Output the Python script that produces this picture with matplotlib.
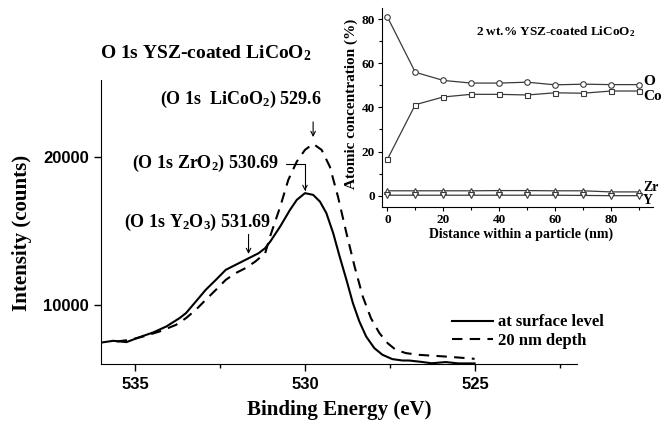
import numpy as np
import matplotlib
matplotlib.use("Agg")
import matplotlib.pyplot as plt
from matplotlib.ticker import MultipleLocator

plt.rcParams['font.family'] = ['Liberation Serif', 'DejaVu Serif']
plt.rcParams['font.weight'] = 'bold'
plt.rcParams['axes.labelweight'] = 'bold'
plt.rcParams['mathtext.fontset'] = 'custom'
plt.rcParams['mathtext.rm'] = 'Liberation Serif:bold'
plt.rcParams['mathtext.it'] = 'Liberation Serif:bold:italic'
plt.rcParams['mathtext.bf'] = 'Liberation Serif:bold'

# ---- O 1s spectra (binding energy in eV, intensity in counts) ----
energia_sup = [535.98, 535.64, 535.25, 534.86, 534.47, 534.08, 533.69, 533.50, 533.21,
               532.92, 532.62, 532.33, 532.04, 531.65, 531.36, 531.17, 531.02, 530.73,
               530.44, 530.24, 530.00, 529.76, 529.56, 529.37, 529.17, 528.98, 528.78,
               528.59, 528.40, 528.20, 527.96, 527.72, 527.43, 527.13, 526.94, 526.60,
               526.27, 525.86, 525.48, 525.01]
intens_sup = [7453, 7568, 7480, 7818, 8128, 8534, 9101, 9439, 10223,
              11014, 11689, 12365, 12703, 13155, 13493, 13831, 14277, 15291,
              16419, 17095, 17547, 17432, 16980, 16196, 14845, 13264, 11689,
              10115, 8872, 7858, 7074, 6622, 6331, 6236, 6236, 6150,
              6050, 6130, 6040, 6040]

energia_20nm = [535.54, 535.15, 534.76, 534.28, 533.79, 533.50, 533.21, 532.92, 532.62,
                532.33, 532.04, 531.75, 531.46, 531.17, 531.02, 530.73, 530.49, 530.24,
                530.00, 529.76, 529.51, 529.27, 529.03, 528.78, 528.54, 528.30, 528.06,
                527.81, 527.57, 527.33, 527.03, 526.65, 525.77, 525.01]
intens_20nm = [7520, 7635, 7858, 8196, 8649, 9101, 9662, 10338, 11014,
               11689, 12142, 12480, 12926, 13493, 14660, 16620, 18446, 19682,
               20473, 20878, 20473, 19345, 17318, 14845, 12588, 10561, 9101,
               8088, 7412, 6959, 6736, 6620, 6490, 6350]

# ---- depth profile (inset) ----
distancia = [0, 10, 20, 30, 40, 50, 60, 70, 80, 90]
conc_O = [81, 55.9, 52.2, 51.0, 51.0, 51.4, 50.2, 50.5, 50.3, 50.3]
conc_Co = [16.4, 41.2, 44.7, 45.9, 45.9, 45.6, 46.6, 46.4, 47.4, 47.4]
conc_Zr = [2.2, 2.2, 2.2, 2.2, 2.3, 2.3, 2.2, 2.2, 1.7, 1.7]
conc_Y = [0.2, 0.2, 0.2, 0.2, 0.2, 0.2, 0.2, 0.1, 0.0, 0.0]

fig = plt.figure(figsize=(6.61, 4.24), dpi=100)
ax = fig.add_axes([0.1528, 0.1415, 0.720, 0.670])

ax.plot(energia_sup, intens_sup, color='black', lw=1.5, label='at surface level')
ax.plot(energia_20nm, intens_20nm, color='black', lw=1.5, ls=(0, (5, 3.5)), label='20 nm depth')

ax.set_xlim(536, 522)
ax.set_ylim(6000, 25200)
ax.spines['top'].set_visible(False)
ax.spines['right'].set_visible(False)
ax.set_xticks([535, 530, 525], labels=['535', '530', '525'],
              fontfamily='Liberation Sans', fontweight='bold', fontsize=12)
ax.set_yticks([10000, 20000], labels=['10000', '20000'],
              fontfamily='Liberation Sans', fontweight='bold', fontsize=12)
ax.xaxis.set_minor_locator(MultipleLocator(2.5))
ax.tick_params(which='major', direction='out', length=5, width=1)
ax.tick_params(which='minor', direction='out', length=3, width=1)
ax.tick_params(axis='x', pad=4)

ax.set_xlabel('Binding Energy (eV)', fontsize=15, fontweight='bold')
ax.xaxis.set_label_coords(0.5, -0.125)
ax.set_ylabel('Intensity (counts)', fontsize=15, fontweight='bold')
ax.yaxis.set_label_coords(-0.145, 0.461)

fig.text(0.312, 0.875, 'O 1s YSZ-coated LiCoO$_2$', ha='center', va='center',
         fontsize=14, fontweight='bold')

# anotaciones de picos
ax.annotate('(O 1s  LiCoO$_2$) 529.6', xy=(529.76, 21150), xytext=(531.89, 23850),
            ha='center', va='center', fontsize=13, fontweight='bold')
ax.annotate('', xy=(529.76, 21150), xytext=(529.76, 22550),
            arrowprops=dict(arrowstyle='->', lw=0.8, color='black', mutation_scale=8))
ax.annotate('(O 1s ZrO$_2$) 530.69', xy=(530.0, 17700), xytext=(530.76, 19527),
            ha='right', va='center', fontsize=13, fontweight='bold',
            arrowprops=dict(arrowstyle='->', lw=0.8, color='black', mutation_scale=8,
                            connectionstyle='angle,angleA=0,angleB=90,rad=0',
                            shrinkA=3, shrinkB=0))
ax.annotate('(O 1s Y$_2$O$_3$) 531.69', xy=(531.66, 15540), xytext=(533.16, 15540),
            ha='center', va='center', fontsize=13, fontweight='bold')
ax.annotate('', xy=(531.66, 13250), xytext=(531.66, 14950),
            arrowprops=dict(arrowstyle='->', lw=0.8, color='black', mutation_scale=8))

ax.legend(loc='center left', bbox_to_anchor=(0.737, 0.114), frameon=False,
          prop={'size': 12, 'weight': 'bold'}, handlelength=2.5, handletextpad=0.3,
          labelspacing=0.15, borderpad=0, borderaxespad=0)

# ---- inset ----
axi = fig.add_axes([0.5775, 0.5125, 0.4104, 0.4686])
gris = '#3a3a3a'
axi.plot(distancia, conc_O, color=gris, lw=0.9, marker='o', ms=4, mfc='white', mec=gris, mew=0.8)
axi.plot(distancia, conc_Co, color=gris, lw=0.9, marker='s', ms=3.6, mfc='white', mec=gris, mew=0.8)
axi.plot(distancia, conc_Zr, color=gris, lw=0.9, marker='^', ms=4, mfc='white', mec=gris, mew=0.8)
axi.plot(distancia, conc_Y, color=gris, lw=0.9, marker='v', ms=4, mfc='white', mec=gris, mew=0.8)
axi.set_xlim(-2, 95)
axi.set_ylim(-5, 85)
axi.patch.set_alpha(0)
axi.spines['top'].set_visible(False)
axi.spines['right'].set_visible(False)
axi.set_xticks([0, 20, 40, 60, 80])
axi.set_yticks([0, 20, 40, 60, 80])
axi.xaxis.set_minor_locator(MultipleLocator(10))
axi.yaxis.set_minor_locator(MultipleLocator(10))
axi.tick_params(which='major', direction='out', length=3, width=0.8, labelsize=9.5, pad=2)
axi.tick_params(which='minor', direction='out', length=2, width=0.8)
for lab in axi.get_xticklabels() + axi.get_yticklabels():
    lab.set_fontweight('bold')
axi.set_xlabel('Distance within a particle (nm)', fontsize=10, fontweight='bold')
axi.xaxis.set_label_coords(0.515, -0.105)
axi.set_ylabel('Atomic concentration (%)', fontsize=11, fontweight='bold')
axi.yaxis.set_label_coords(-0.087, 0.517)
axi.text(0.643, 0.879, '2 wt.% YSZ-coated LiCoO$_2$', transform=axi.transAxes,
         ha='center', va='center', fontsize=9.5, fontweight='bold')

for nombre, serie, dy, tam in [('O', conc_O, 2, 11), ('Co', conc_Co, -4, 11),
                               ('Zr', conc_Zr, 3, 10), ('Y', conc_Y, -3.5, 10)]:
    axi.annotate(nombre, xy=(distancia[-1], serie[-1]), xytext=(3, dy),
                 textcoords='offset points', ha='left', va='center',
                 fontsize=tam, fontweight='bold')

fig.savefig('out.png', dpi=100)
